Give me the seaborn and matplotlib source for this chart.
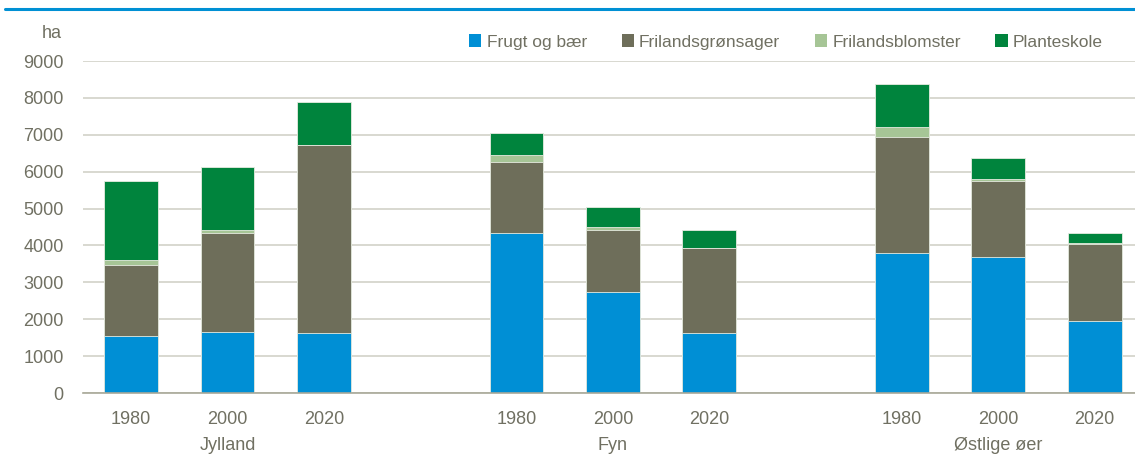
import matplotlib
matplotlib.use("Agg")
import matplotlib.pyplot as plt
from matplotlib.patches import Patch
from matplotlib.lines import Line2D
import seaborn as sns
import pandas as pd
import numpy as np

# data (ha)
regions = ["Jylland", "Fyn", "Østlige øer"]
years = ["1980", "2000", "2020"]
frugt = [1540, 1650, 1640, 4330, 2740, 1630, 3800, 3680, 1950]
groensager = [1940, 2700, 5070, 1940, 1690, 2290, 3150, 2070, 2080]
blomster = [120, 60, 10, 180, 60, 10, 250, 50, 30]
planteskole = [2150, 1720, 1160, 600, 560, 480, 1180, 580, 280]
series_names = ["Frugt og bær", "Frilandsgrønsager", "Frilandsblomster", "Planteskole"]
colors = ["#008fd5", "#6e6e5a", "#a6c596", "#00843d"]
text_col = "#707062"

sns.set_theme(style="white")
plt.rcParams["font.family"] = ["Liberation Sans Narrow", "Liberation Sans", "DejaVu Sans"]

# x slots with a blank gap between regions
pos = [0, 1, 2, 4, 5, 6, 8, 9, 10]
df = pd.DataFrame({"pos": pos, "Frugt og bær": frugt, "Frilandsgrønsager": groensager,
                   "Frilandsblomster": blomster, "Planteskole": planteskole})
cum = df[series_names].cumsum(axis=1)

fig = plt.figure(figsize=(11.35, 4.59), dpi=100)
ax = fig.add_axes([83 / 1135, 1 - 393 / 459, 1052 / 1135, (393 - 61) / 459])

# draw from the top layer down so each cumulative bar sits over the next
for name, col in reversed(list(zip(series_names, colors))):
    sns.barplot(x=df["pos"], y=cum[name], native_scale=True, color=col,
                width=0.56, errorbar=None, saturation=1, ax=ax,
                edgecolor="#e6ebe0", linewidth=0.6)

ax.set_xlim(-0.5, 10.42)
ax.set_ylim(0, 9000)
ax.set_yticks(range(0, 9001, 1000))
ax.set_yticklabels([str(v) for v in range(0, 9001, 1000)], fontsize=13, color=text_col)
ax.set_xticks(pos)
ax.set_xticklabels(years * 3, fontsize=13, color=text_col)
ax.tick_params(axis="both", length=0)
ax.tick_params(axis="y", pad=14)
ax.tick_params(axis="x", pad=13)
ax.set_xlabel("")
ax.set_ylabel("")
ax.grid(axis="y", color="#d2d2c8", linewidth=1.2)
ax.set_axisbelow(True)
for s in ["top", "right", "left"]:
    ax.spines[s].set_visible(False)
ax.spines["bottom"].set_color("#a8a898")
ax.spines["bottom"].set_linewidth(1.2)

for i, r in enumerate(regions):
    ax.text(pos[i * 3 + 1], -0.157, r, transform=ax.get_xaxis_transform(),
            ha="center", va="center", fontsize=13, color=text_col)

fig.text(52 / 1135, 1 - 33 / 459, "ha", ha="center", va="center",
         fontsize=13, color=text_col)

handles = [Patch(facecolor=c, edgecolor="none") for c in colors]
fig.legend(handles, series_names, loc="center", bbox_to_anchor=(786 / 1135, 1 - 42 / 459),
           ncol=4, frameon=False, fontsize=12.5, labelcolor=text_col,
           handlelength=0.7, handleheight=0.7, handletextpad=0.3, columnspacing=2.0)

# blue rule across the top
fig.add_artist(Line2D([5 / 1135, 1], [1 - 9 / 459, 1 - 9 / 459], color="#0090d4",
                      linewidth=2.2, transform=fig.transFigure))

fig.savefig("out.png", dpi=100)
